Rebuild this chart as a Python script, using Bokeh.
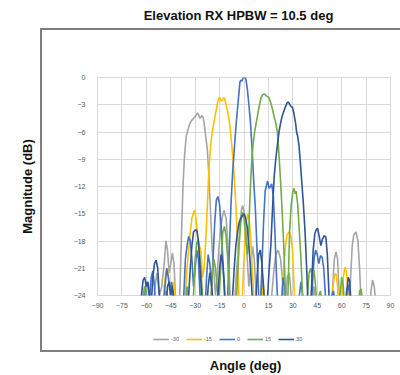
from bokeh.plotting import figure
from bokeh.layouts import column
from bokeh.models import Range1d, FixedTicker, Legend, LegendItem, Label, InlineStyleSheet
from bokeh.embed import file_html
from bokeh.resources import INLINE

title_text = "Elevation RX HPBW = 10.5 deg"
x_label = "Angle (deg)"
y_label = "Magnitude (dB)"
x_ticks = [-90, -75, -60, -45, -30, -15, 0, 15, 30, 45, 60, 75, 90]
y_ticks = [0, -3, -6, -9, -12, -15, -18, -21, -24]

series_names = ["-30", "-15", "0", "15", "30"]
series_colors = ["#A5A5A5", "#FFC000", "#4472C4", "#70AD47", "#2F5597"]

ang_m30 = [-90, -57, -55, -53.5, -52, -50.5, -49, -48, -47, -46, -45, -44, -43, -42, -41, -39.5, -38.5, -37.5, -36.5, -35.5, -34.5, -33.5, -32.5, -31.5, -30.5, -29.5, -28.5, -27.7, -27, -26, -25.3, -24.5, -23.5, -22.5, -21.5, -20.5, -19.5, -18.5, -17.5, -16.5, -15.5, -14.5, -13.5, -12.3, -11, -10, -9, -8, -7, -5.5, -4.5, -3.5, -2.5, -1.5, -0.8, 0.3, 1.2, 2, 3, 4, 5.3, 6.3, 7.5, 8.5, 10, 11, 12, 13, 15, 17, 18.5, 19.5, 21, 22.5, 24, 25, 26.5, 27.8, 29, 30, 40, 42, 43, 44, 45, 53, 54.5, 55.5, 56.5, 57.5, 58.5, 59.5, 64.5, 65.5, 66.5, 67.5, 68.8, 70, 71, 72, 73, 77, 78, 79, 80, 81, 82, 90]
mag_m30 = [-30, -30, -23.5, -21.5, -24, -23, -20.5, -18, -19, -21.5, -20.5, -19.3, -20.5, -24.5, -27, -24, -18, -12, -8.5, -6.5, -5.8, -5.2, -4.8, -4.6, -4.4, -4.2, -3.9, -4.2, -4.5, -4.2, -4.3, -5, -6.5, -8, -11, -15, -19, -21.5, -24, -22, -19, -17, -15.5, -14.6, -15.5, -18, -22, -26, -28, -24, -21, -19, -16, -14.5, -14.1, -15, -17, -20, -23, -21, -18.6, -20, -24, -27, -25, -22, -24, -27, -28, -24, -21, -19.5, -19, -20, -23, -26, -22, -21.5, -24, -28, -29, -25, -23, -24.5, -28, -28, -23, -20, -19.2, -20, -24, -28, -28, -22, -18.5, -17.3, -17, -18, -21, -25, -28, -27, -23.5, -22.3, -23, -25, -28, -30]

ang_m15 = [-90, -58, -56.5, -55, -54, -50, -49, -48, -47, -46, -45, -44, -43, -42, -41, -37, -36, -35, -34, -33, -32, -31, -30.3, -29.5, -28.5, -27.5, -26.5, -25.5, -24.5, -23.5, -22.5, -21.5, -20.5, -19.5, -18.5, -17.5, -16.5, -15.5, -14.8, -14, -13.2, -12.5, -11.8, -11, -10, -9, -8, -7, -6, -5, -4, -3.2, -2.5, -1, 0, 1, 2.2, 3.2, 4, 5, 6, 7, 10, 11, 12, 13, 20, 23, 24, 25.5, 26.5, 27.7, 28.8, 29.8, 30.5, 31.5, 33, 45, 47, 48, 49, 52, 54, 55.5, 56.5, 57.5, 58.5, 60, 61, 62, 63, 64, 65, 90]
mag_m15 = [-30, -30, -26, -24.5, -27, -27, -23, -21.5, -21, -22.5, -25, -23, -22.5, -25, -28, -28, -24, -21, -19, -17, -15.5, -14.9, -14.6, -15.5, -17.5, -18.5, -19, -22, -21, -18, -14, -10, -7.5, -6, -5, -4, -3, -2.3, -2.2, -2.6, -2.5, -2.2, -2.4, -3, -3.8, -4.8, -6.5, -8.5, -11, -14, -18, -24, -27, -24, -20, -16.5, -15, -15.5, -17.5, -21, -24, -27, -27, -24, -23, -26, -28, -25, -22, -18.5, -17.3, -17, -17.5, -19, -22, -26, -28, -28, -25, -24, -26, -27, -24, -21.8, -21.6, -23, -27, -25, -22, -20.9, -21.5, -24, -28, -30]

ang_0 = [-90, -62, -61, -60, -59, -58, -57, -56, -55, -54, -50, -48.5, -47.5, -46.5, -45.5, -44.5, -43.5, -42.5, -38, -37, -36, -35, -34, -33, -32, -31, -30, -29, -28, -27, -26, -24, -23, -22, -21, -20, -19, -18, -17, -16, -15, -14, -13, -12, -11, -10, -9, -8, -7, -6, -5, -4, -3, -2.5, -2, -1.2, -0.5, 0.5, 1.2, 2, 3, 4, 5, 6, 7, 8, 9, 10, 11, 12, 13, 14.5, 15.5, 16.3, 17, 18, 19, 20, 21, 23, 24, 25, 26, 33, 34, 35, 36, 37, 41, 42, 43, 44, 45, 46, 47, 48, 49, 50, 51, 53, 54, 55, 56, 57, 62, 63, 64, 65, 66, 90]
mag_0 = [-30, -30, -24, -22.5, -23, -24.5, -22, -21.3, -23, -26, -26, -23, -21, -22, -23.5, -22.5, -24, -27, -27, -24, -20, -18.5, -17.5, -18, -20, -23, -21, -19, -20, -24, -27, -26, -22, -19.5, -20.5, -23, -20, -16, -13.5, -13.1, -14, -16.5, -20, -24, -27, -24, -19, -14, -10.5, -8, -5.5, -3.5, -1.5, -0.5, -0.3, -0.4, 0, 0, -0.2, -1.2, -3, -5, -8, -11.5, -14.5, -19, -24, -26, -21, -16, -12.5, -11.4, -12.2, -12, -11.7, -13, -17, -22, -26, -25, -22, -23, -27, -28, -24, -22.5, -24, -27, -27, -23, -20, -19, -19.5, -20.5, -19.6, -19.8, -21, -24, -27, -27, -24, -23.5, -25, -28, -28, -23.5, -22.8, -24, -28, -30]

ang_15 = [-90, -63, -62, -61, -60, -59, -50, -49, -48, -47, -46, -37, -36, -35, -34, -33, -31, -30, -29, -28.2, -27.5, -26.5, -25.5, -24.5, -21, -20, -19, -18.5, -17.5, -16.5, -15.5, -14, -13, -12, -11, -10, -9, -8, -5, -4, -3, -2, -1, 0, 1, 2, 2.8, 3.5, 4.5, 5.5, 6.5, 7.5, 8.5, 9.5, 10.5, 11.5, 12.5, 13.5, 14.5, 15.5, 16.5, 17.5, 18.5, 19.5, 20.5, 21.5, 22.5, 23.5, 24.5, 25.5, 26.3, 27, 28, 29, 30, 30.7, 31.5, 32, 33, 34, 35, 36, 37, 39, 40, 41, 42, 43, 44, 45, 46, 47, 48, 49, 58, 59, 60, 61, 62, 70, 71, 72, 73, 74, 90]
mag_15 = [-30, -30, -24, -23, -23.5, -26, -27, -25, -23.5, -24.5, -27, -27, -25, -23, -24.5, -26, -24, -20, -18.2, -17.9, -19, -21, -24, -27, -27, -23, -20.5, -20, -21, -23, -25, -20, -17, -16.4, -17.5, -20, -24, -27, -26, -22, -18.5, -16, -14.8, -15.5, -17.5, -19.5, -18, -14, -10, -7.5, -6, -5, -4, -3, -2.2, -1.9, -1.8, -2, -2.1, -2.3, -2.8, -3.5, -4.3, -5, -6, -8.5, -11.5, -15, -19, -24, -27, -24, -17, -14, -12.6, -12.2, -12.8, -12.5, -14, -17, -20, -24, -27, -24, -21.5, -21, -22, -21.2, -23, -26, -24, -23.5, -25, -28, -28, -24, -22, -23, -26, -27, -23.5, -23.3, -25, -28, -30]

ang_30 = [-90, -64, -63, -62, -61, -60, -59, -58, -57, -56, -55, -54, -53, -52, -51, -48, -47, -46, -45, -44, -43, -42, -35, -34, -33, -32, -31, -30, -29, -28, -27, -26, -25, -23, -22, -21, -20, -19, -18, -16, -15, -14, -13, -12, -11, -8, -7, -6, -5, -4, -3, -2, -1, 0, 1, 2, 3, 4, 5, 6, 7, 8, 9, 10, 11, 12, 13, 14.5, 15.5, 16.5, 17.5, 18.5, 19.5, 20.5, 21.5, 22.5, 23.5, 24.5, 25.5, 26.5, 27.3, 28.2, 29, 29.8, 30.5, 31.2, 31.8, 32.3, 33, 33.8, 34.7, 35.5, 36.5, 37.5, 38.5, 39.5, 40.5, 41.5, 42.5, 43.5, 44.5, 45.3, 46.2, 47.2, 48.2, 49.3, 50.3, 51.2, 52, 53, 55, 56, 57, 58, 62, 63, 64, 64.8, 65.5, 66.5, 90]
mag_30 = [-30, -30, -24, -22.3, -22, -23, -22.5, -24, -25, -22, -20.5, -20.1, -21, -24, -27, -26, -23, -22.5, -24, -23, -24.5, -27, -27, -24, -21, -18.5, -17, -16.8, -16.8, -18, -21, -24, -27, -26, -23, -21.5, -22.5, -25, -27, -24, -21, -19.5, -20.5, -23, -27, -27, -24, -21, -18.5, -17, -16, -15.5, -15.2, -15, -15.5, -16.5, -18.5, -21, -24, -27, -26, -22, -19.5, -19, -20.5, -23, -26, -24, -21, -18.5, -14.5, -11, -9, -7.5, -6, -5, -4.2, -3.7, -3.2, -2.8, -2.7, -3, -3.2, -3.3, -3.8, -4.5, -5.2, -6, -6.5, -7.5, -9.5, -11.5, -14, -17, -21, -26, -27, -23, -19, -17.2, -16.7, -16.6, -17.5, -18.5, -17.8, -17.4, -17.6, -19.5, -23, -27, -27, -24.5, -24, -26, -28, -24, -22, -22.3, -24, -28, -30]

angles = [ang_m30, ang_m15, ang_0, ang_15, ang_30]
mags = [mag_m30, mag_m15, mag_0, mag_15, mag_30]

TOP_H = 25     # title strip
MID_H = 293    # plot
BOT_H = 375 - TOP_H - MID_H  # legend + x title strip
FRAME_L = 97

def strip(height, css=None):
    f = figure(width=400, height=height, output_backend="svg", toolbar_location=None,
               x_range=Range1d(0, 1), y_range=Range1d(0, 1), x_axis_type=None, y_axis_type=None,
               min_border=0, min_border_left=0, min_border_right=0, min_border_top=0,
               min_border_bottom=0, stylesheets=[css] if css else [])
    f.outline_line_color = None
    f.xgrid.visible = False
    f.ygrid.visible = False
    return f

css_mid = InlineStyleSheet(css=""":host::after { content: ""; position: absolute; left: 40px; top: 3px;
  width: 372px; height: %dpx; border: 2px solid #7F7F7F; border-bottom: none;
  box-sizing: border-box; pointer-events: none; }""" % (MID_H - 3))
css_bot = InlineStyleSheet(css=""":host::after { content: ""; position: absolute; left: 40px; top: 0px;
  width: 372px; height: 34px; border: 2px solid #7F7F7F; border-top: none;
  box-sizing: border-box; pointer-events: none; }""")

# title strip
t = strip(TOP_H)
t.add_layout(Label(x=238 - FRAME_L, y=TOP_H - 15, x_units="screen", y_units="screen", text=title_text,
                   text_font="Liberation Sans", text_font_style="bold", text_font_size="13px",
                   text_align="center", text_baseline="middle", text_color="#111111"))

# main plot
p = figure(width=400, height=MID_H, output_backend="svg", toolbar_location=None,
           x_range=Range1d(-90, 90), y_range=Range1d(-24, 0),
           min_border_left=FRAME_L, min_border_right=10, min_border_top=77 - TOP_H,
           min_border_bottom=TOP_H + MID_H - 295, stylesheets=[css_mid])
p.outline_line_color = "#D9D9D9"
p.background_fill_color = "white"
p.border_fill_color = "white"

for ax, ticks in ((p.xaxis, x_ticks), (p.yaxis, y_ticks)):
    ax.ticker = FixedTicker(ticks=ticks)
    ax.axis_line_color = None
    ax.major_tick_line_color = None
    ax.minor_tick_line_color = None
    ax.major_label_text_font = "Liberation Sans"
    ax.major_label_text_font_size = "7px"
    ax.major_label_text_color = "#595959"
p.yaxis.major_label_standoff = 6
p.xaxis.major_label_standoff = 1
p.yaxis.axis_label = y_label
p.yaxis.axis_label_text_font = "Liberation Sans"
p.yaxis.axis_label_text_font_style = "bold"
p.yaxis.axis_label_text_font_size = "13px"
p.yaxis.axis_label_text_color = "#111111"
p.yaxis.axis_label_standoff = 36
p.xgrid.grid_line_color = "#D9D9D9"
p.ygrid.grid_line_color = "#D9D9D9"

for col, xs, ys in zip(series_colors, angles, mags):
    p.line(xs, ys, line_color=col, line_width=1.6)

# legend + x-axis title strip (legend keys drawn from off-screen stand-in lines)
q = strip(BOT_H, css_bot)
items = []
for name, col in zip(series_names, series_colors):
    r = q.line([2, 3], [2, 2], line_color=col, line_width=1.6)
    items.append(LegendItem(label=name, renderers=[r]))
legend = Legend(items=items, orientation="horizontal", location=(153 - FRAME_L, BOT_H - 24),
                label_text_font="Liberation Sans", label_text_font_size="5.5px",
                label_text_color="#595959", glyph_width=16, glyph_height=6,
                label_height=6, label_width=1, label_standoff=2, spacing=7,
                border_line_color=None, background_fill_alpha=0, padding=0, margin=0)
q.add_layout(legend, "center")
q.add_layout(Label(x=245 - FRAME_L, y=BOT_H - 47, x_units="screen", y_units="screen", text=x_label,
                   text_font="Liberation Sans", text_font_style="bold", text_font_size="13px",
                   text_align="center", text_baseline="middle", text_color="#111111"))

layout = column(t, p, q, spacing=0)
open("out.html", "w").write(file_html(layout, INLINE))
